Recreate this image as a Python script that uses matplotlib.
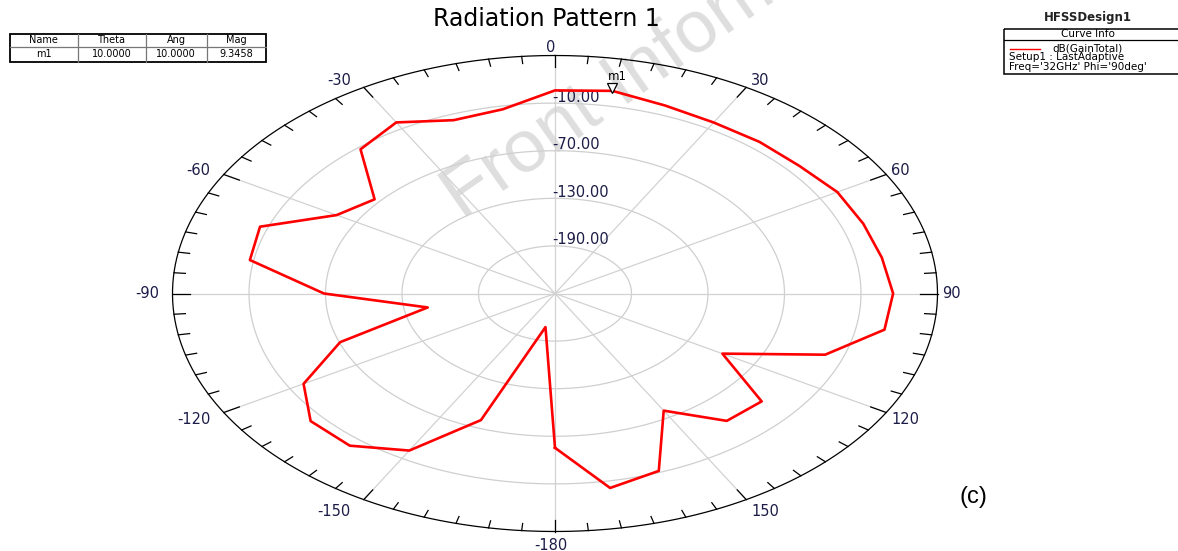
import numpy as np
import matplotlib.pyplot as plt
from matplotlib import transforms

plt.rcParams['font.family'] = ['DejaVu Sans']

# gain pattern (theta in deg, dB(GainTotal))
theta = [-180, -170, -160, -150, -140, -130, -120, -110, -100, -90,
         -80, -70, -60, -50, -40, -30, -20, -10, 0, 10,
         20, 30, 40, 50, 60, 70, 80, 90, 100, 110,
         120, 130, 140, 150, 160, 170, 180]
gain = [-55.5, -207.0, -80.2, -21.4, 0.4, 0.2, -22.3, -70.7, -148.6, -68.8,
        -7.0, -3.8, -52.3, -65.3, -12.7, -1.0, -17.5, -14.2, 6.0, 9.3458,
        2.2, -1.1, -0.5, 0.2, 5.7, 7.3, 10.3, 15.2, 12.4, -24.5,
        -98.4, -38.4, -40.4, -79.5, -12.0, -1.1, -55.5]

r_min, r_max = -250, 50
ring_values = [-190, -130, -70, -10]
angle_ticks = [0, 30, 60, 90, 120, 150, 180, -150, -120, -90, -60, -30]
angle_text = ['0', '30', '60', '90', '120', '150', '-180', '-150', '-120', '-90', '-60', '-30']

marker_name = 'm1'
marker_theta = 10.0
marker_mag = 9.3458
table_cols = ['Name', 'Theta', 'Ang', 'Mag']
table_row = ['m1', '10.0000', '10.0000', '9.3458']

W, H = 1178, 551
lab_color = '#1c1c48'


def to_xy(th_deg, val):
    r = (np.asarray(val, float) - r_min) / (r_max - r_min)
    t = np.radians(th_deg)
    return r * np.sin(t), r * np.cos(t)


fig = plt.figure(figsize=(W / 100, H / 100), dpi=100)

# overlay in pixel units for title, table, legend box
ov = fig.add_axes([0, 0, 1, 1], zorder=0)
ov.set_xlim(0, W)
ov.set_ylim(H, 0)
ov.axis('off')

# ellipse-shaped polar area
cx, cy, rx, ry = 555, 293.5, 382.5, 238
ax = fig.add_axes([(cx - rx) / W, (H - cy - ry) / H, 2 * rx / W, 2 * ry / H], zorder=1)
ax.set_xlim(-1, 1)
ax.set_ylim(-1, 1)
ax.axis('off')
ax.patch.set_visible(False)

# watermark
ov.text(462, 220, 'Front Information', fontsize=54, color='#dedede', rotation=35,
        rotation_mode='anchor', ha='left', va='baseline', zorder=0.5,
        family='Liberation Sans')

t = np.linspace(0, 2 * np.pi, 721)
for v in ring_values:
    r = (v - r_min) / (r_max - r_min)
    ax.plot(r * np.sin(t), r * np.cos(t), color='#cfcfcf', lw=0.9, zorder=1)
for a in range(0, 360, 30):
    ax.plot([0, np.sin(np.radians(a))], [0, np.cos(np.radians(a))], color='#d2d2d2', lw=0.9, zorder=1)

ax.plot(np.sin(t), np.cos(t), color='black', lw=0.9, zorder=2, clip_on=False)
for a in range(-180, 180, 5):
    ln = 0.047 if a % 30 == 0 else 0.03
    s, c = np.sin(np.radians(a)), np.cos(np.radians(a))
    ax.plot([s, (1 - ln) * s], [c, (1 - ln) * c], color='black', lw=0.9, zorder=2, clip_on=False)

for a, txt in zip(angle_ticks, angle_text):
    s, c = np.sin(np.radians(a)), np.cos(np.radians(a))
    if abs(s) < 1e-6:
        ha, dx = 'center', -4
    elif s > 0:
        ha, dx = 'left', 5
    else:
        ha, dx = 'right', -13
    dy = 8.5 * c if c > 0 else 14 * c
    ax.annotate(txt, xy=(s, c), xytext=(dx, dy), textcoords='offset pixels',
                ha=ha, va='center', fontsize=10.5, color=lab_color, annotation_clip=False)

for v in ring_values:
    r = (v - r_min) / (r_max - r_min)
    ax.annotate(f'{v:.2f}', xy=(0, r), xytext=(-3, 6), textcoords='offset pixels',
                ha='left', va='center', fontsize=10.5, color=lab_color, zorder=3)

x, y = to_xy(theta, gain)
ax.plot(x, y, color='#ff0000', lw=1.9, zorder=4, clip_on=False)

# marker m1
mx, my = to_xy(marker_theta, marker_mag)
shift = transforms.ScaledTranslation(0, 3 / 100, fig.dpi_scale_trans)
ax.plot([mx], [my], marker='v', ms=7, mfc='white', mec='black', mew=0.9, zorder=5,
        transform=ax.transData + shift)
ax.annotate(marker_name, xy=(mx, my), xytext=(5, 14), textcoords='offset pixels',
            ha='center', va='center', fontsize=8.5, color='black')

# title
ov.text(546.5, 19, 'Radiation Pattern 1', ha='center', va='center', fontsize=17, color='black')

# marker table
col_edges = [9.5, 77.5, 145.5, 206.5, 265.5]
row_edges = [33.5, 47, 61.5]
for xe in col_edges[1:-1]:
    ov.plot([xe, xe], [row_edges[0], row_edges[-1]], color='#777777', lw=0.9)
ov.plot([col_edges[0], col_edges[-1]], [row_edges[1], row_edges[1]], color='#777777', lw=0.9)
ov.add_patch(plt.Rectangle((col_edges[0], row_edges[0]), col_edges[-1] - col_edges[0],
                           row_edges[-1] - row_edges[0], fill=False, ec='black', lw=1.3))
for i in range(4):
    xm = (col_edges[i] + col_edges[i + 1]) / 2
    ov.text(xm, (row_edges[0] + row_edges[1]) / 2, table_cols[i], ha='center', va='center',
            fontsize=7, color='black')
    ov.text(xm, (row_edges[1] + row_edges[2]) / 2, table_row[i], ha='center', va='center',
            fontsize=7, color='black')

# curve info box
ov.text(1088, 17, 'HFSSDesign1', ha='center', va='center', fontsize=8.5, weight='bold', color='#222222')
ov.add_patch(plt.Rectangle((1004, 28.5), 190, 45.5, fill=False, ec='black', lw=1.1, clip_on=False))
ov.plot([1004, 1178], [39.5, 39.5], color='black', lw=0.9)
ov.text(1088, 34, 'Curve Info', ha='center', va='center', fontsize=7.5, color='black')
ov.plot([1010, 1040], [49, 49], color='#ff0000', lw=1.0)
ov.text(1052, 48.5, 'dB(GainTotal)', ha='left', va='center', fontsize=7.5, color='black')
ov.text(1009, 57.5, 'Setup1 : LastAdaptive', ha='left', va='center', fontsize=7.5, color='black')
ov.text(1009, 66.5, "Freq='32GHz' Phi='90deg'", ha='left', va='center', fontsize=7.5, color='black')

ov.text(973.5, 497, '(c)', ha='center', va='center', fontsize=17, color='black',
        family='Liberation Sans')

fig.savefig('out.png', dpi=100)
